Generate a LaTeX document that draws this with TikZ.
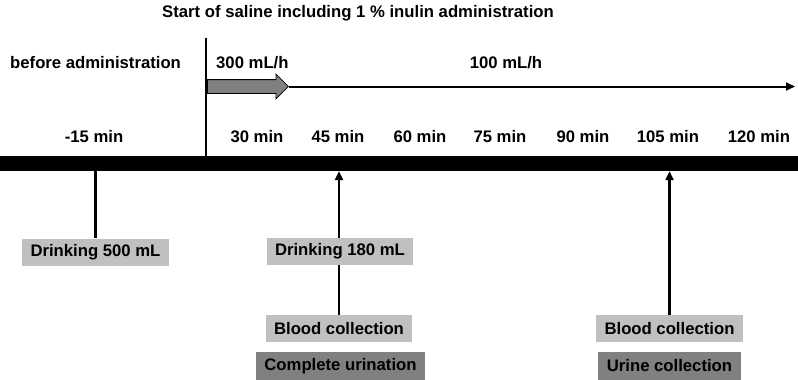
\documentclass[tikz,border=0pt]{standalone}
\usepackage{fontspec}
\setmainfont{Liberation Sans}
\usepackage{tikz}
\usetikzlibrary{
  shapes.arrows,
  arrows.meta, positioning,
  calc, backgrounds
}
\usepackage{xcolor}
\definecolor{lightbox}{RGB}{192,192,192}
\definecolor{darkbox}{RGB}{128,128,128}
\definecolor{arrgray}{RGB}{128,128,128}
\tikzset{
  lbl/.style={font=\fontsize{16.7}{20}\selectfont\bfseries, inner sep=0pt},
  box/.style={rectangle, fill=lightbox, minimum height=27pt,
    inner xsep=8.5pt, inner ysep=0pt,
    font=\fontsize{16.7}{20}\selectfont\bfseries},
  boxD/.style={box, fill=darkbox, minimum height=28pt},
  fastarr/.style={single arrow, draw=black, fill=arrgray, line width=0.8pt,
    minimum height=81pt, minimum width=24pt, inner sep=6.5pt,
    single arrow head extend=5.5pt, anchor=west},
  arrUp/.style={-{Triangle[length=9pt,width=8pt]}, line width=2.2pt},
  inf/.style={-{Triangle[length=9pt,width=8pt]}, line width=2pt},
  stick/.style={line width=2.2pt},
}

\begin{document}
\begin{tikzpicture}[x=1pt, y=-1pt]
  \useasboundingbox (0,0) rectangle (798,380);

  % Time axis
  \node[fill=black, minimum width=798pt, minimum height=15pt, inner sep=0pt]
       (bar) at (399,163.5) {};
  \foreach \xx/\mn [count=\i] in {94/-15, 257/30, 338/45, 420/60,
                                  500/75, 583/90, 668/105, 759/120}
    \node[lbl] (t\i) at (\xx,137) {\mn\ min};

  % Start of administration
  \node[lbl] (title) at (358,13) {Start of saline including 1 \% inulin administration};
  \coordinate (start) at (206,38);
  \draw[line width=2.5pt] (start) -- (start |- bar.north);
  \node[lbl, anchor=west] (before) at (10,63) {before administration};
  \node[lbl, anchor=west] (fastlbl) at (216,63) {300 mL/h};
  \node[lbl] (slowlbl) at (506,63) {100 mL/h};

  % Infusion rate
  \node[fastarr] (fast) at (207,86.5) {};
  \coordinate (infend) at (795,86.5);
  \draw[inf] (fast.tip) -- (infend);

  % Events
  \node[box] (drinkA) at (95.5,252) {Drinking 500 mL};
  \node[box] (drinkB) at (340,251.5) {Drinking 180 mL};
  \node[box] (bloodA) at (339,328.5) {Blood collection};
  \node[boxD] (urinA) at (340.5,366) {Complete urination};
  \node[box] (bloodB) at (669.5,328.5) {Blood collection};
  \node[boxD] (urinB) at (669.5,366) {Urine collection};

  \begin{scope}[on background layer]
    \draw[stick] (drinkA.north) -- (drinkA.north |- bar.south);
    \draw[arrUp] (bloodA.north) -- (bloodA.north |- bar.south);
    \draw[arrUp] (bloodB.north) -- (bloodB.north |- bar.south);
  \end{scope}
\end{tikzpicture}
\end{document}
